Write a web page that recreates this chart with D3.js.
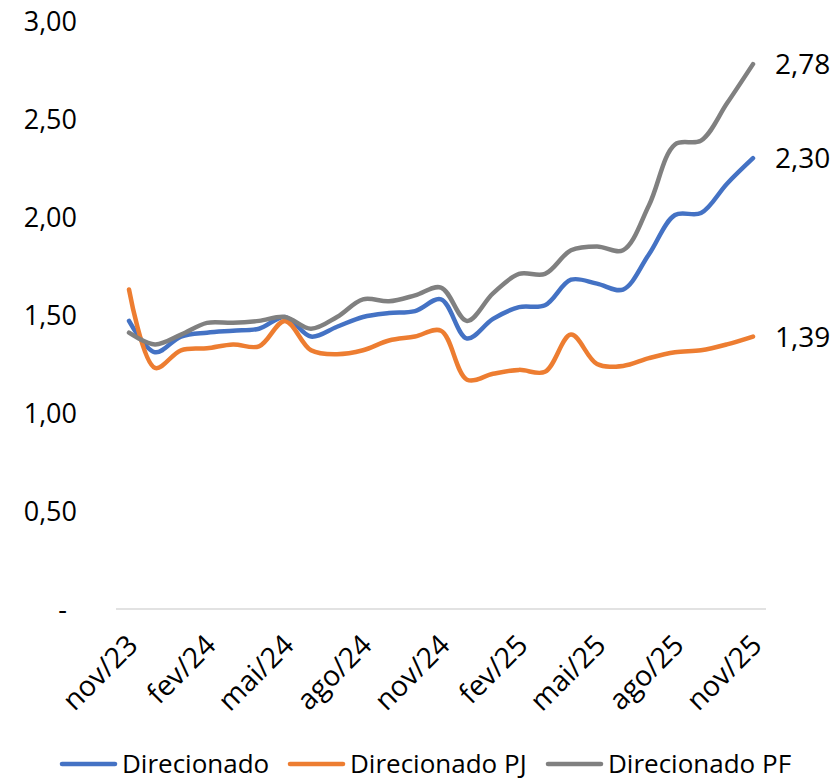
<!DOCTYPE html>
<html>
<head>
<meta charset="utf-8">
<script src="https://cdn.jsdelivr.net/npm/d3@7"></script>
<style>
  body { margin: 0; background: #fff; }
  svg text { font-family: 'Open Sans', 'Noto Sans', sans-serif; fill: #000; }
</style>
</head>
<body>
<svg id="chart" width="840" height="781"></svg>
<script>
// monthly categories nov/23 .. nov/25
var months = ['nov/23', 'dez/23', 'jan/24', 'fev/24', 'mar/24', 'abr/24', 'mai/24', 'jun/24', 'jul/24',
  'ago/24', 'set/24', 'out/24', 'nov/24', 'dez/24', 'jan/25', 'fev/25', 'mar/25', 'abr/25', 'mai/25',
  'jun/25', 'jul/25', 'ago/25', 'set/25', 'out/25', 'nov/25'];
var tickLabels = ['nov/23', 'fev/24', 'mai/24', 'ago/24', 'nov/24', 'fev/25', 'mai/25', 'ago/25', 'nov/25'];
var yTicks = [0, 0.5, 1, 1.5, 2, 2.5, 3];

var direcionado = [1.47, 1.31, 1.39, 1.41, 1.42, 1.43, 1.49, 1.39, 1.44, 1.49, 1.51, 1.52, 1.58,
  1.38, 1.48, 1.54, 1.55, 1.68, 1.66, 1.63, 1.81, 2.01, 2.02, 2.17, 2.30];
var direcionadoPJ = [1.63, 1.23, 1.32, 1.33, 1.35, 1.34, 1.47, 1.32, 1.30, 1.32, 1.37, 1.39, 1.42,
  1.17, 1.20, 1.22, 1.21, 1.40, 1.25, 1.24, 1.28, 1.31, 1.32, 1.35, 1.39];
var direcionadoPF = [1.41, 1.35, 1.40, 1.46, 1.46, 1.47, 1.49, 1.43, 1.49, 1.58, 1.57, 1.60, 1.64,
  1.47, 1.61, 1.71, 1.71, 1.83, 1.85, 1.83, 2.06, 2.37, 2.39, 2.58, 2.78];

var seriesNames = ['Direcionado', 'Direcionado PJ', 'Direcionado PF'];
var seriesColors = ['#4472c4', '#ed7d31', '#808080'];
var series = [direcionado, direcionadoPJ, direcionadoPF];

var svg = d3.select('#chart');
var x = d3.scalePoint().domain(months).range([116, 766]).padding(0.5);
var y = d3.scaleLinear().domain([0, 3]).range([609, 21]);
var fmt = d3.formatLocale({decimal: ',', thousands: '.', grouping: [3], currency: ['R$', '']}).format('.2f');

// y axis labels (no line, no gridlines)
svg.append('g')
  .attr('transform', 'translate(77,0)')
  .call(d3.axisLeft(y).tickValues(yTicks).tickSize(0).tickPadding(0)
    .tickFormat(d => d === 0 ? '-' : fmt(d)))
  .call(g => g.select('.domain').remove())
  .selectAll('text')
    .attr('font-size', 27)
    .attr('dy', '0.36em')
    .attr('dx', d => d === 0 ? -10 : 0);

// x axis baseline
svg.append('line')
  .attr('x1', 116).attr('x2', 766)
  .attr('y1', y(0)).attr('y2', y(0))
  .attr('stroke', '#d9d9d9').attr('stroke-width', 1.5);

// x axis labels, rotated
var xAxis = svg.append('g')
  .attr('transform', 'translate(0,' + y(0) + ')')
  .call(d3.axisBottom(x).tickValues(tickLabels).tickSize(0).tickPadding(0));
xAxis.select('.domain').remove();
xAxis.selectAll('text')
  .attr('font-size', 28.5)
  .attr('text-anchor', 'end')
  .attr('dy', '0')
  .attr('y', 0)
  .attr('transform', 'translate(10,38) rotate(-45)');

// lines
var line = d3.line()
  .x((d, i) => x(months[i]))
  .y(d => y(d))
  .curve(d3.curveCatmullRom.alpha(0.5));

svg.selectAll('.series')
  .data(series)
  .enter().append('path')
    .attr('class', 'series')
    .attr('d', d => line(d))
    .attr('fill', 'none')
    .attr('stroke', (d, i) => seriesColors[i])
    .attr('stroke-width', 4.5)
    .attr('stroke-linecap', 'round')
    .attr('stroke-linejoin', 'round');

// end labels
svg.selectAll('.endLabel')
  .data(series)
  .enter().append('text')
    .attr('class', 'endLabel')
    .attr('x', x(months[months.length - 1]) + 22)
    .attr('y', d => y(d[d.length - 1]))
    .attr('dy', '0.36em')
    .attr('font-size', 28)
    .text(d => fmt(d[d.length - 1]));

// legend
var legendX = [62, 290, 548];
var legend = svg.selectAll('.legend')
  .data(seriesNames)
  .enter().append('g')
    .attr('class', 'legend')
    .attr('transform', (d, i) => 'translate(' + legendX[i] + ',764)');
legend.append('line')
  .attr('x1', 0).attr('x2', 53)
  .attr('stroke', (d, i) => seriesColors[i])
  .attr('stroke-width', 4.5)
  .attr('stroke-linecap', 'round');
legend.append('text')
  .attr('x', 60)
  .attr('dy', '0.36em')
  .attr('font-size', 26)
  .text(d => d);
</script>
</body>
</html>
